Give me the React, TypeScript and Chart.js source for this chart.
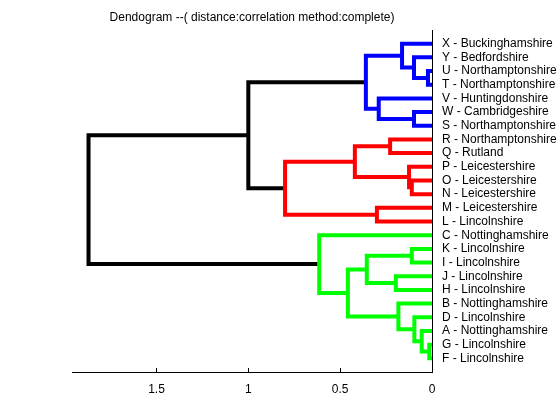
import { useEffect, useRef } from "react"
import { Chart, registerables } from "chart.js"

Chart.register(...registerables)

// leaf labels, top to bottom
const leaves = [
  "X - Buckinghamshire", "Y - Bedfordshire", "U - Northamptonshire", "T - Northamptonshire",
  "V - Huntingdonshire", "W - Cambridgeshire", "S - Northamptonshire", "R - Northamptonshire",
  "Q - Rutland", "P - Leicestershire", "O - Leicestershire", "N - Leicestershire",
  "M - Leicestershire", "L - Lincolnshire", "C - Nottinghamshire", "K - Lincolnshire",
  "I - Lincolnshire", "J - Lincolnshire", "H - Lincolnshire", "B - Nottinghamshire",
  "D - Lincolnshire", "A - Nottinghamshire", "G - Lincolnshire", "F - Lincolnshire",
]

// merges: leaves by letter, earlier clusters by "#index"
const mergeLeft = ["U", "Y", "X", "W", "V", "#2", "O", "P", "R", "#8", "M", "#9", "#5", "K", "J", "#13", "G", "A", "D", "B", "#15", "C", "#12"]
const mergeRight = ["T", "#0", "#1", "S", "#3", "#4", "N", "#6", "Q", "#7", "L", "#10", "#11", "I", "H", "#14", "F", "#16", "#17", "#18", "#19", "#20", "#21"]
const mergeHeight = [0.022, 0.098, 0.163, 0.098, 0.29, 0.36, 0.11, 0.125, 0.228, 0.42, 0.30, 0.80, 1.0, 0.11, 0.197, 0.355, 0.015, 0.056, 0.096, 0.183, 0.458, 0.614, 1.87]
const mergeColor = ["b", "b", "b", "b", "b", "b", "r", "r", "r", "r", "r", "r", "k", "g", "g", "g", "g", "g", "g", "g", "g", "g", "k"]
const xTicks = [0, 0.5, 1, 1.5]

const colours: Record<string, string> = { b: "#0000ff", r: "#ff0000", g: "#00ff00", k: "#000000" }
const TITLE = "Dendogram --( distance:correlation method:complete)"

function buildSegments() {
  const pos: Record<string, { h: number; y: number }> = {}
  leaves.forEach((l, i) => (pos[l[0]] = { h: 0, y: i + 1 }))
  const sets: any[] = []
  mergeLeft.forEach((a, i) => {
    const A = pos[a], B = pos[mergeRight[i]]
    if (!A || !B) return
    const h = mergeHeight[i]
    pos["#" + i] = { h, y: (A.y + B.y) / 2 }
    sets.push({
      data: [{ x: A.h, y: A.y }, { x: h, y: A.y }, { x: h, y: B.y }, { x: B.h, y: B.y }],
      borderColor: colours[mergeColor[i]],
      borderWidth: 4,
      showLine: true,
      pointRadius: 0,
      clip: false,
      borderJoinStyle: "miter",
    })
  })
  return sets
}

export default function App() {
  const ref = useRef<HTMLCanvasElement>(null)
  useEffect(() => {
    if (!ref.current) return
    const chart = new Chart(ref.current, {
      type: "scatter",
      data: { datasets: buildSegments() },
      options: {
        responsive: false,
        animation: false,
        layout: { padding: { left: 72, top: 30, bottom: 0, right: 0 } },
        plugins: {
          legend: { display: false },
          tooltip: { enabled: false },
        },
        scales: {
          x: {
            type: "linear",
            reverse: true,
            min: 0,
            max: 1.96,
            afterBuildTicks: (s: any) => { s.ticks = xTicks.map((v) => ({ value: v })) },
            afterFit: (s: any) => { s.height = 48 },
            ticks: { color: "#000", font: { family: "Liberation Sans", size: 12 }, callback: (v: any) => String(v), maxRotation: 0, padding: 2 },
            grid: { display: false },
            border: { color: "#000", width: 1 },
          },
          y: {
            type: "linear",
            position: "right",
            reverse: true,
            min: 0,
            max: 25,
            afterBuildTicks: (s: any) => { s.ticks = leaves.map((_, i) => ({ value: i + 1 })) },
            afterFit: (s: any) => { s.width = 128 },
            ticks: {
              color: "#000",
              font: { family: "Liberation Sans", size: 12 },
              padding: 2,
              autoSkip: false,
              callback: (v: any) => leaves[v - 1] ?? "",
            },
            grid: { display: false },
            border: { color: "#000", width: 1 },
          },
        },
      },
      plugins: [
        {
          id: "extras",
          afterDraw: (c: any) => {
            const ctx = c.ctx, xs = c.scales.x, area = c.chartArea
            ctx.save()
            ctx.strokeStyle = "#000"
            ctx.lineWidth = 1
            xTicks.forEach((v) => {
              const px = Math.round(xs.getPixelForValue(v)) + 0.5
              ctx.beginPath()
              ctx.moveTo(px, area.bottom)
              ctx.lineTo(px, area.bottom - 4)
              ctx.stroke()
            })
            ctx.fillStyle = "#000"
            ctx.font = "12px 'Liberation Sans'"
            ctx.textAlign = "center"
            ctx.textBaseline = "middle"
            ctx.fillText(TITLE, (area.left + area.right) / 2, 18)
            ctx.restore()
          },
        },
      ],
    } as any)
    return () => chart.destroy()
  }, [])
  return (
    <div style={{ position: "fixed", left: 0, top: 0, width: 560, height: 420, background: "#fff" }}>
      <canvas ref={ref} width={560} height={420} />
    </div>
  )
}
